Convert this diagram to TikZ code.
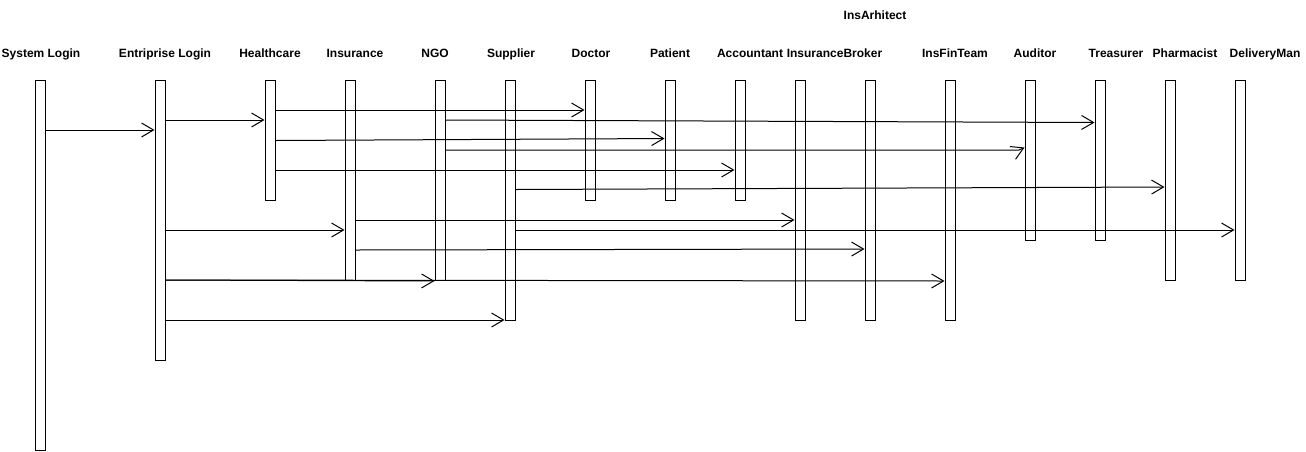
\documentclass[tikz,border=0pt]{standalone}
\usepackage{fontspec}
\setmainfont{Liberation Sans}
\usetikzlibrary{arrows.meta}
\begin{document}
\begin{tikzpicture}[x=0.75pt,y=-0.75pt,
  bar/.style={draw,line width=0.75pt,fill=white,rectangle,minimum width=7.5pt,inner sep=0pt},
  lbl/.style={font=\bfseries\fontsize{9}{10}\selectfont,inner sep=0pt,anchor=base},
  msg/.style={line width=0.75pt,-{Straight Barb[length=9pt,width=10.5pt,line width=0.75pt]}}]
\path[use as bounding box] (0,0) rectangle (1306,451);
% labels
\node[lbl] (tsl) at (41,57.5) {System Login};
\node[lbl] (tel) at (165,57.5) {Entriprise Login};
\node[lbl] (thc) at (270,57.5) {Healthcare};
\node[lbl] (tins) at (355,57.5) {Insurance};
\node[lbl] (tngo) at (435,57.5) {NGO};
\node[lbl] (tsup) at (511,57.5) {Supplier};
\node[lbl] (tdoc) at (591,57.5) {Doctor};
\node[lbl] (tpat) at (670,57.5) {Patient};
\node[lbl] (tacc) at (750,57.5) {Accountant};
\node[lbl] (tib) at (834.5,57.5) {InsuranceBroker};
\node[lbl] (tia) at (875,19) {InsArhitect};
\node[lbl] (tift) at (955,57.5) {InsFinTeam};
\node[lbl] (taud) at (1035,57.5) {Auditor};
\node[lbl] (ttre) at (1116,57.5) {Treasurer};
\node[lbl] (tpha) at (1185,57.5) {Pharmacist};
\node[lbl] (tdm) at (1265,57.5) {DeliveryMan};
% lifeline bars
\node[bar,minimum height=277.5pt] (sl) at (40,265) {};
\node[bar,minimum height=210pt] (el) at (160,220) {};
\node[bar,minimum height=90pt] (hc) at (270,140) {};
\node[bar,minimum height=150pt] (ins) at (350,180) {};
\node[bar,minimum height=150pt] (ngo) at (440,180) {};
\node[bar,minimum height=180pt] (sup) at (510,200) {};
\node[bar,minimum height=90pt] (doc) at (590,140) {};
\node[bar,minimum height=90pt] (pat) at (670,140) {};
\node[bar,minimum height=90pt] (acc) at (740,140) {};
\node[bar,minimum height=180pt] (ib) at (800,200) {};
\node[bar,minimum height=180pt] (ia) at (870,200) {};
\node[bar,minimum height=180pt] (ift) at (950,200) {};
\node[bar,minimum height=120pt] (aud) at (1030,160) {};
\node[bar,minimum height=120pt] (tre) at (1100,160) {};
\node[bar,minimum height=150pt] (pha) at (1170,180) {};
\node[bar,minimum height=150pt] (dm) at (1240,180) {};
% messages
\coordinate (bend) at (1019,150);
\draw[msg] (sl.east |- 0,130) -- (el.west |- 0,130);
\draw[msg] (el.east |- 0,120) -- (hc.west |- 0,120);
\draw[msg] (hc.east |- 0,110) -- (doc.west |- 0,110);
\draw[msg] (ngo.east |- 0,120) -- (tre.west |- 0,122.5);
\draw[msg] (hc.east |- 0,140.5) -- (pat.west |- 0,138.5);
\draw[msg] (ngo.east |- 0,150) -- (bend) -- (aud.west |- 0,147.5);
\draw[msg] (hc.east |- 0,170) -- (acc.west |- 0,170);
\draw[msg] (sup.east |- 0,189.5) -- (pha.west |- 0,187);
\draw[msg] (ins.east |- 0,220) -- (ib.west |- 0,220);
\draw[msg] (el.east |- 0,230) -- (ins.west |- 0,230);
\draw[msg] (sup.east |- 0,230) -- (dm.west |- 0,230);
\draw[msg] (ins.east |- 0,250) -- (ia.west |- 0,249);
\draw[msg] (el.east |- 0,280) -- (ngo.west |- 0,281);
\draw[msg] (el.east |- 0,280) -- (ift.west |- 0,281);
\draw[msg] (el.east |- 0,320) -- (sup.west |- 0,320);
\end{tikzpicture}
\end{document}
